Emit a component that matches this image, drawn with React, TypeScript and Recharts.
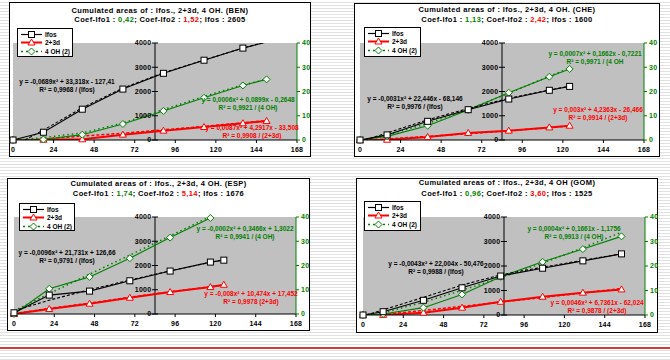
import React from 'react';
import {
    ComposedChart,
    Line,
    XAxis,
    YAxis,
    CartesianGrid,
    ReferenceLine,
    ReferenceDot,
} from 'recharts';

const hourTicks = [0, 24, 48, 72, 96, 120, 144, 168];
const areaTicks = [0, 1000, 2000, 3000, 4000];
const ohTicks = [0, 10, 20, 30, 40];

// BEN
const benHours = [0, 18, 41, 65, 89, 113, 136, 150];
const benIfos = [0, 320, 1270, 2100, 2750, 3290, 3790, 4040];
const ben23d = [0, 10, 30, 220, 385, 535, 690, 785];
const ben4oh = [0, 0.2, 2.2, 6.6, 12.0, 17.4, 22.5, 25.0];
const benIfosFitHours = [7, 18, 41, 65, 89, 113, 136, 150];
const benIfosFit = [0, 410, 1330, 2140, 2770, 3300, 3790, 4050];
const ben23dFitHours = [8, 18, 41, 65, 89, 113, 136, 150];
const ben23dFit = [0, 45, 160, 280, 420, 560, 710, 800];
const ben4ohFitHours = [3, 18, 41, 65, 89, 113, 136, 150];
const ben4ohFit = [0, 1.0, 2.9, 7.0, 12.5, 18.0, 22.7, 25.0];

// CHE
const cheHours = [0, 16, 40, 64, 88, 112, 124];
const cheIfos = [0, 210, 770, 1250, 1690, 2050, 2210];
const che23d = [0, 10, 125, 290, 385, 520, 590];
const che4oh = [0, 1.5, 5.9, 12.4, 19.5, 26.1, 29.3];
const cheIfosFitHours = [3, 16, 40, 64, 88, 112, 124];
const cheIfosFit = [0, 290, 830, 1300, 1720, 2060, 2220];
const che23dFitHours = [6, 16, 40, 64, 88, 112, 124];
const che23dFit = [0, 45, 150, 260, 380, 510, 580];
const che4ohFitHours = [4, 16, 40, 64, 88, 112, 124];
const che4ohFit = [0, 2.1, 6.8, 12.6, 19.3, 26.3, 29.7];

// ESP
const espHours = [0, 21, 45, 69, 93, 117, 125];
const espIfos = [50, 780, 945, 1370, 1770, 2140, 2220];
const esp23d = [0, 205, 425, 670, 905, 1110, 1205];
const esp4oh = [0, 10.4, 15.3, 23.0, 31.5, 39.6, 42.0];
const espFitHours = [0, 21, 45, 69, 93, 117, 125];
const espIfosFit = [130, 570, 1000, 1400, 1780, 2130, 2240];
const esp23dFit = [17, 230, 450, 690, 915, 1120, 1200];
const esp4ohFit = [1.3, 8.4, 16.4, 24.3, 32.2, 40.2, 42.8];

// GOM
const gomHours = [0, 12, 36, 59, 82, 107, 131, 154];
const gomIfos = [0, 135, 600, 1110, 1590, 1910, 2210, 2495];
const gom23d = [0, 5, 95, 300, 540, 745, 910, 1045];
const gom4oh = [0, 0.4, 3.0, 8.4, 15.6, 21.7, 26.9, 32.1];
const gomIfosFitHours = [2, 12, 36, 59, 82, 107, 131, 154];
const gomIfosFit = [0, 210, 720, 1220, 1640, 1950, 2230, 2500];
const gom23dFitHours = [9, 12, 36, 59, 82, 107, 131, 154];
const gom23dFit = [0, 20, 185, 355, 525, 715, 900, 1080];
const gom4ohFitHours = [7, 12, 36, 59, 82, 107, 131, 154];
const gom4ohFit = [0, 0.9, 5.2, 10.1, 15.2, 21.2, 27.4, 33.8];

const BLACK = '#000000';
const RED = '#ff0000';
const GREEN = '#008000';
const FONT = '"Liberation Sans", Arial, sans-serif';

const pts = (hours: number[], values: number[]) => hours.map((h, i) => ({ h, v: values[i] }));

const SquareMark = (props: any) => {
    const { cx, cy } = props;
    if (cx == null || cy == null) return null;
    return <rect x={cx - 3} y={cy - 3} width={6} height={6} fill="#fff" stroke={BLACK} strokeWidth={1} />;
};

const TriangleMark = (props: any) => {
    const { cx, cy } = props;
    if (cx == null || cy == null) return null;
    return (
        <polygon
            points={`${cx},${cy - 3.5} ${cx + 3.5},${cy + 2.5} ${cx - 3.5},${cy + 2.5}`}
            fill="#fff"
            stroke={RED}
            strokeWidth={1}
        />
    );
};

const DiamondMark = (props: any) => {
    const { cx, cy } = props;
    if (cx == null || cy == null) return null;
    return (
        <polygon
            points={`${cx},${cy - 3.5} ${cx + 3.5},${cy} ${cx},${cy + 3.5} ${cx - 3.5},${cy}`}
            fill="#fff"
            stroke={GREEN}
            strokeWidth={1}
        />
    );
};

const AreaTick = ({ cx, cy, label }: any) => (
    <g>
        <line x1={cx - 3} x2={cx + 3} y1={cy} y2={cy} stroke={BLACK} />
        <text
            x={cx - 3.5}
            y={cy}
            dy="0.35em"
            textAnchor="end"
            fontSize={7}
            fontWeight={700}
            letterSpacing={0.3}
            fill={BLACK}
            fontFamily={FONT}
        >
            {label}
        </text>
    </g>
);

interface Note { lines: string[]; color: string; cx: number; top: number }

interface PanelProps {
    box: { left: number; top: number; width: number; height: number };
    plot: { left: number; top: number; right: number; bottom: number };
    title: string;
    coef1: string;
    coef2: string;
    total: string;
    titleY: [number, number];
    legendBox: { left: number; top: number; width: number; height: number };
    hours: number[];
    ifos: number[];
    d23: number[];
    oh4: number[];
    ifosFit: { h: number; v: number }[];
    d23Fit: { h: number; v: number }[];
    ohFit: { h: number; v: number }[];
    notes: Note[];
}

function LegendBox({ box }: { box: PanelProps['legendBox'] }) {
    const rows = [
        { label: 'Ifos', color: BLACK, dash: undefined, width: 1.2, Mark: SquareMark },
        { label: '2+3d', color: RED, dash: undefined, width: 2, Mark: TriangleMark },
        { label: '4 OH (2)', color: GREEN, dash: '2 3', width: 1.5, Mark: DiamondMark },
    ];
    return (
        <div
            style={{
                position: 'absolute',
                left: box.left,
                top: box.top,
                width: box.width,
                height: box.height,
                border: '1px solid #000',
                background: '#fff',
                boxSizing: 'border-box',
                padding: '1px 0 0 2px',
            }}
        >
            {rows.map((r) => (
                <div key={r.label} style={{ display: 'flex', alignItems: 'center', height: 8.5, whiteSpace: 'nowrap' }}>
                    <svg width={23} height={9} style={{ display: 'block', flex: 'none' }}>
                        <line x1={1} x2={22} y1={4.5} y2={4.5} stroke={r.color} strokeWidth={r.width} strokeDasharray={r.dash} />
                        <r.Mark cx={11.5} cy={4.5} />
                    </svg>
                    <span style={{ fontSize: 6.5, fontWeight: 700, marginLeft: 2, lineHeight: '9px' }}>{r.label}</span>
                </div>
            ))}
        </div>
    );
}

function Panel(p: PanelProps) {
    const ifos = pts(p.hours, p.ifos);
    const d23 = pts(p.hours, p.d23);
    const oh4 = pts(p.hours, p.oh4);
    // markers only where the value sits inside the axis range (Excel hides the rest)
    const ifosMarks = ifos.filter((d) => d.v <= 4000);
    const d23Marks = d23.filter((d) => d.v <= 4000);
    const ohMarks = oh4.filter((d) => d.v <= 40);
    const tickStyle = { fill: BLACK, fontSize: 7, fontWeight: 700, fontFamily: FONT, letterSpacing: 0.3 };
    const titleStyle: React.CSSProperties = {
        position: 'absolute',
        left: 0,
        right: 0,
        textAlign: 'center',
        fontSize: 7.5,
        fontWeight: 700,
        letterSpacing: 0.38,
        lineHeight: '10px',
        whiteSpace: 'nowrap',
    };

    return (
        <div
            style={{
                position: 'absolute',
                left: p.box.left,
                top: p.box.top,
                width: p.box.width,
                height: p.box.height,
                border: '1px solid #000',
                background: '#fff',
                boxSizing: 'border-box',
                fontFamily: FONT,
            }}
        >
            <div style={{ position: 'absolute', left: -1, top: -1 }}>
                <ComposedChart
                    width={p.box.width}
                    height={p.box.height}
                    margin={{ top: p.plot.top, left: p.plot.left, right: 0, bottom: 0 }}
                >
                    <CartesianGrid yAxisId="areaM" fill="#c0c0c0" fillOpacity={1} horizontal={false} vertical={false} />
                    <XAxis
                        dataKey="h"
                        type="number"
                        domain={[0, 168]}
                        ticks={hourTicks}
                        interval={0}
                        height={p.plot.bottom}
                        stroke={BLACK}
                        tick={tickStyle}
                        tickSize={3}
                        tickMargin={4}
                    />
                    <YAxis yAxisId="area" domain={[0, 4000]} allowDataOverflow hide />
                    <YAxis yAxisId="areaM" domain={[0, 4000]} hide />
                    <YAxis
                        yAxisId="oh"
                        orientation="right"
                        domain={[0, 40]}
                        allowDataOverflow
                        ticks={ohTicks}
                        interval={0}
                        width={p.plot.right}
                        stroke={GREEN}
                        tick={{ ...tickStyle, fill: GREEN }}
                        tickSize={3}
                        tickMargin={2}
                    />
                    <YAxis yAxisId="ohM" orientation="right" domain={[0, 40]} hide />
                    <ReferenceLine x={84} yAxisId="areaM" stroke={BLACK} />
                    {areaTicks.map((t) => (
                        <ReferenceDot
                            key={t}
                            x={84}
                            y={t}
                            yAxisId="areaM"
                            r={0}
                            shape={(sp: any) => <AreaTick cx={sp.cx} cy={sp.cy} label={t} />}
                        />
                    ))}
                    <Line data={p.d23Fit} dataKey="v" yAxisId="area" stroke={RED} strokeWidth={1.5} strokeDasharray="3 2" dot={false} activeDot={false} isAnimationActive={false} />
                    <Line data={d23} dataKey="v" yAxisId="area" stroke={RED} strokeWidth={2} dot={false} activeDot={false} isAnimationActive={false} />
                    <Line data={p.ohFit} dataKey="v" yAxisId="oh" stroke={GREEN} strokeWidth={1.5} strokeDasharray="1.5 3" dot={false} activeDot={false} isAnimationActive={false} />
                    <Line data={oh4} dataKey="v" yAxisId="oh" stroke={GREEN} strokeWidth={1.1} dot={false} activeDot={false} isAnimationActive={false} />
                    <Line data={p.ifosFit} dataKey="v" yAxisId="area" stroke={BLACK} strokeWidth={1.1} strokeDasharray="3 2" dot={false} activeDot={false} isAnimationActive={false} />
                    <Line data={ifos} dataKey="v" yAxisId="area" stroke={BLACK} strokeWidth={1.1} dot={false} activeDot={false} isAnimationActive={false} />
                    <Line data={d23Marks} dataKey="v" yAxisId="areaM" stroke="none" dot={TriangleMark} activeDot={false} isAnimationActive={false} />
                    <Line data={ohMarks} dataKey="v" yAxisId="ohM" stroke="none" dot={DiamondMark} activeDot={false} isAnimationActive={false} />
                    <Line data={ifosMarks} dataKey="v" yAxisId="areaM" stroke="none" dot={SquareMark} activeDot={false} isAnimationActive={false} />
                </ComposedChart>
            </div>

            <div style={{ ...titleStyle, top: p.titleY[0] - 5 }}>{p.title}</div>
            <div style={{ ...titleStyle, top: p.titleY[1] - 5 }}>
                Coef-Ifo1 : <span style={{ color: GREEN }}>{p.coef1}</span>; Coef-Ifo2 :{' '}
                <span style={{ color: RED }}>{p.coef2}</span>; Ifos : {p.total}
            </div>

            {p.notes.map((n, i) => (
                <div
                    key={i}
                    style={{
                        position: 'absolute',
                        left: n.cx - 70,
                        width: 140,
                        top: n.top,
                        textAlign: 'center',
                        color: n.color,
                        fontSize: 6.5,
                        fontWeight: 700,
                        lineHeight: '8px',
                        whiteSpace: 'nowrap',
                    }}
                >
                    {n.lines.map((l) => (
                        <div key={l}>{l}</div>
                    ))}
                </div>
            ))}

            <LegendBox box={p.legendBox} />
        </div>
    );
}

export default function App() {
    const title = (site: string, dot: boolean) => `Cumulated areas of : Ifos., 2+3d, 4 OH${dot ? '.' : ''} (${site})`;
    return (
        <div
            style={{
                position: 'absolute',
                left: 0,
                top: 0,
                width: 670,
                height: 360,
                overflow: 'hidden',
                background: 'repeating-linear-gradient(to bottom, #ffffff 0px, #ffffff 2px, #e0e0e0 2px, #e0e0e0 3px)',
            }}
        >
            <Panel
                box={{ left: 9, top: 2, width: 302, height: 155 }}
                plot={{ left: 4, top: 41, right: 14, bottom: 17 }}
                title={title('BEN', true)}
                coef1="0,42"
                coef2="1,52"
                total="2605"
                titleY={[8, 17]}
                legendBox={{ left: 7, top: 25, width: 56, height: 29 }}
                hours={benHours}
                ifos={benIfos}
                d23={ben23d}
                oh4={ben4oh}
                ifosFit={pts(benIfosFitHours, benIfosFit)}
                d23Fit={pts(ben23dFitHours, ben23dFit)}
                ohFit={pts(ben4ohFitHours, ben4ohFit)}
                notes={[
                    { lines: ['y = -0,0689x² + 33,318x - 127,41', 'R² = 0,9968 / (Ifos)'], color: BLACK, cx: 57, top: 75 },
                    { lines: ['y = 0,0006x² + 0,0899x - 0,2648', 'R² = 0,9921 / (4 OH)'], color: GREEN, cx: 238, top: 93 },
                    { lines: ['y = 0,0087x² + 4,2917x - 33,508', 'R² = 0,9908 / (2+3d)'], color: RED, cx: 242, top: 121 },
                ]}
            />
            <Panel
                box={{ left: 354, top: 3, width: 306, height: 154 }}
                plot={{ left: 6, top: 40, right: 16, bottom: 17 }}
                title={title('CHE', true)}
                coef1="1,13"
                coef2="2,42"
                total="1600"
                titleY={[6, 16]}
                legendBox={{ left: 9, top: 23, width: 57, height: 30 }}
                hours={cheHours}
                ifos={cheIfos}
                d23={che23d}
                oh4={che4oh}
                ifosFit={pts(cheIfosFitHours, cheIfosFit)}
                d23Fit={pts(che23dFitHours, che23dFit)}
                ohFit={pts(che4ohFitHours, che4ohFit)}
                notes={[
                    { lines: ['y = 0,0007x² + 0,1662x - 0,7221', 'R² = 0,9971 / (4 OH'], color: GREEN, cx: 240, top: 46 },
                    { lines: ['y = -0,0031x² + 22,446x - 68,146', 'R² = 0,9976 / (Ifos)'], color: BLACK, cx: 60, top: 91 },
                    { lines: ['y = 0,003x² + 4,2363x - 26,466', 'R² = 0,9914 / (2+3d)'], color: RED, cx: 243, top: 102 },
                ]}
            />
            <Panel
                box={{ left: 7, top: 178, width: 303, height: 153 }}
                plot={{ left: 7, top: 39, right: 14, bottom: 17 }}
                title={title('ESP', true)}
                coef1="1,74"
                coef2="5,14"
                total="1676"
                titleY={[5, 15]}
                legendBox={{ left: 11, top: 24, width: 56, height: 28 }}
                hours={espHours}
                ifos={espIfos}
                d23={esp23d}
                oh4={esp4oh}
                ifosFit={pts(espFitHours, espIfosFit)}
                d23Fit={pts(espFitHours, esp23dFit)}
                ohFit={pts(espFitHours, esp4ohFit)}
                notes={[
                    { lines: ['y = -0,0002x² + 0,3466x + 1,3022', 'R² = 0,9941 / (4 OH)'], color: GREEN, cx: 237, top: 46 },
                    { lines: ['y = -0,0096x² + 21,731x + 126,66', 'R² = 0,9791 / (Ifos)'], color: BLACK, cx: 59, top: 70 },
                    { lines: ['y = -0,008x² + 10,474x + 17,452', 'R² = 0,9978 (2+3d)'], color: RED, cx: 243, top: 111 },
                ]}
            />
            <Panel
                box={{ left: 356, top: 178, width: 302, height: 155 }}
                plot={{ left: 7, top: 39, right: 13, bottom: 18 }}
                title={title('GOM', false)}
                coef1="0,96"
                coef2="3,60"
                total="1525"
                titleY={[4, 15]}
                legendBox={{ left: 7, top: 22, width: 57, height: 30 }}
                hours={gomHours}
                ifos={gomIfos}
                d23={gom23d}
                oh4={gom4oh}
                ifosFit={pts(gomIfosFitHours, gomIfosFit)}
                d23Fit={pts(gom23dFitHours, gom23dFit)}
                ohFit={pts(gom4ohFitHours, gom4ohFit)}
                notes={[
                    { lines: ['y = 0,0004x² + 0,1661x - 1,1756', 'R² = 0,9913 / (4 OH)'], color: GREEN, cx: 217, top: 46 },
                    { lines: ['y = -0,0043x² + 22,004x - 50,476', 'R² = 0,9988 / (Ifos)'], color: BLACK, cx: 79, top: 81 },
                    { lines: ['y = 0,0046x² + 6,7361x - 62,024', 'R² = 0,9878 / (2+3d)'], color: RED, cx: 240, top: 120 },
                ]}
            />
            <div style={{ position: 'absolute', left: 0, top: 347, width: 670, height: 2, background: '#d23a3a' }} />
        </div>
    );
}
